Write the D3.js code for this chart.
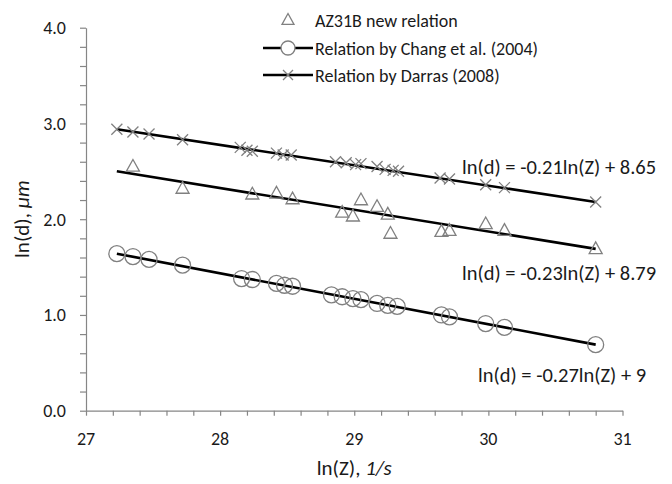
<!DOCTYPE html>
<html>
<head>
<meta charset="utf-8">
<script src="https://cdn.jsdelivr.net/npm/d3@7"></script>
<style>
  body { margin: 0; background: #fff; }
  svg { display: block; }
</style>
</head>
<body>
<div id="chart"></div>
<script>
// ── Data ─────────────────────────────────────────────────────
var xTicks = [27, 28, 29, 30, 31];
var yTicks = [0, 1, 2, 3, 4];

// AZ31B new relation (triangles)
var az31bX = [27.35, 27.72, 28.24, 28.42, 28.54, 28.91, 28.99, 29.05, 29.17, 29.25, 29.27, 29.65, 29.71, 29.98, 30.12, 30.80];
var az31bY = [2.55, 2.32, 2.26, 2.27, 2.21, 2.07, 2.03, 2.20, 2.13, 2.05, 1.85, 1.87, 1.88, 1.95, 1.88, 1.69];

// Relation by Chang et al. (2004) (circles)
var changX = [27.23, 27.35, 27.47, 27.72, 28.16, 28.24, 28.42, 28.48, 28.54, 28.83, 28.91, 28.99, 29.05, 29.17, 29.25, 29.32, 29.65, 29.71, 29.98, 30.12, 30.80];
var changY = [1.64, 1.61, 1.58, 1.52, 1.38, 1.37, 1.33, 1.31, 1.30, 1.21, 1.19, 1.17, 1.16, 1.12, 1.10, 1.09, 1.00, 0.98, 0.91, 0.87, 0.69];

// Relation by Darras (2008) (crosses)
var darrasX = [27.23, 27.35, 27.47, 27.72, 28.15, 28.20, 28.24, 28.42, 28.47, 28.53, 28.86, 28.94, 29.01, 29.05, 29.17, 29.23, 29.29, 29.33, 29.64, 29.71, 29.98, 30.12, 30.80];
var darrasY = [2.94, 2.91, 2.89, 2.83, 2.75, 2.72, 2.71, 2.69, 2.67, 2.67, 2.60, 2.59, 2.57, 2.58, 2.55, 2.52, 2.51, 2.50, 2.43, 2.42, 2.36, 2.33, 2.18];

// Trend line end points [x0, y0, x1, y1]
var trendAz31b = [27.23, 2.50, 30.80, 1.69];
var trendChang = [27.23, 1.64, 30.80, 0.69];
var trendDarras = [27.23, 2.94, 30.80, 2.18];

var legendLabels = ["AZ31B new relation", "Relation by Chang et al. (2004)", "Relation by Darras (2008)"];
var equationLabels = ["ln(d) = -0.21ln(Z) + 8.65", "ln(d) = -0.23ln(Z) + 8.79", "ln(d) = -0.27ln(Z) + 9"];

// ── Layout ───────────────────────────────────────────────────
var width = 672, height = 484;
var font = "Carlito, Lato, 'Liberation Sans', sans-serif";
var axisColor = "#868686";
var markColor = "#808080";
var textColor = "#1a1a1a";

var svg = d3.select("#chart")
  .append("svg")
  .attr("width", width)
  .attr("height", height)
  .attr("font-family", font);

var x = d3.scaleLinear().domain([27, 31]).range([86, 622.5]);
var y = d3.scaleLinear().domain([0, 4]).range([410.7, 27.7]);

function zip(xs, ys) {
  return xs.map(function (v, i) { return [v, ys[i]]; });
}

// ── Axes ─────────────────────────────────────────────────────
var xAxis = svg.append("g")
  .attr("transform", "translate(0," + y(0) + ")")
  .call(d3.axisBottom(x).ticks(20).tickSize(5).tickSizeOuter(0).tickFormat(""));
var yAxis = svg.append("g")
  .attr("transform", "translate(" + x(27) + ",0)")
  .call(d3.axisLeft(y).ticks(20).tickSize(6).tickSizeOuter(0).tickFormat(""));

[xAxis, yAxis].forEach(function (a) {
  a.select(".domain").attr("stroke", axisColor).attr("stroke-width", 1.2);
  a.selectAll(".tick line").attr("stroke", axisColor).attr("stroke-width", 1.2);
});

svg.selectAll(".xlab")
  .data(xTicks)
  .enter().append("text")
  .attr("x", function (d) { return x(d); })
  .attr("y", 445)
  .attr("text-anchor", "middle")
  .attr("font-size", 18)
  .attr("fill", textColor)
  .text(function (d) { return d; });

svg.selectAll(".ylab")
  .data(yTicks)
  .enter().append("text")
  .attr("x", 66)
  .attr("y", function (d) { return y(d) + 6.5; })
  .attr("text-anchor", "end")
  .attr("font-size", 18)
  .attr("fill", textColor)
  .text(function (d) { return d.toFixed(1); });

// axis titles
var xt = svg.append("text")
  .attr("x", (x(27) + x(31)) / 2)
  .attr("y", 475)
  .attr("text-anchor", "middle")
  .attr("font-size", 21)
  .attr("fill", textColor);
xt.append("tspan").text("ln(Z), ");
xt.append("tspan").attr("font-style", "italic").text("1/s");

var yt = svg.append("text")
  .attr("transform", "translate(29," + (y(2)) + ") rotate(-90)")
  .attr("text-anchor", "middle")
  .attr("font-size", 21)
  .attr("fill", textColor);
yt.append("tspan").text("ln(d), ");
yt.append("tspan").attr("font-style", "italic").text("μm");

// ── Marker shapes ────────────────────────────────────────────
function triPath(s) {
  var h = s * 0.9;
  return "M0," + (-h * 0.6) + "L" + (s / 2) + "," + (h * 0.4) + "L" + (-s / 2) + "," + (h * 0.4) + "Z";
}
function crossPath(s) {
  return "M" + (-s) + "," + (-s) + "L" + s + "," + s + "M" + (-s) + "," + s + "L" + s + "," + (-s);
}

// ── Trend lines ──────────────────────────────────────────────
[trendDarras, trendAz31b, trendChang].forEach(function (t) {
  svg.append("line")
    .attr("x1", x(t[0])).attr("y1", y(t[1]))
    .attr("x2", x(t[2])).attr("y2", y(t[3]))
    .attr("stroke", "#000")
    .attr("stroke-width", 2.6);
});

// ── Points ───────────────────────────────────────────────────
svg.append("g").selectAll("circle")
  .data(zip(changX, changY))
  .enter().append("circle")
  .attr("cx", function (d) { return x(d[0]); })
  .attr("cy", function (d) { return y(d[1]); })
  .attr("r", 8)
  .attr("fill", "none")
  .attr("stroke", markColor)
  .attr("stroke-width", 1.3);

svg.append("g").selectAll("path")
  .data(zip(az31bX, az31bY))
  .enter().append("path")
  .attr("transform", function (d) { return "translate(" + x(d[0]) + "," + y(d[1]) + ")"; })
  .attr("d", triPath(13))
  .attr("fill", "none")
  .attr("stroke", markColor)
  .attr("stroke-width", 1.3);

svg.append("g").selectAll("path")
  .data(zip(darrasX, darrasY))
  .enter().append("path")
  .attr("transform", function (d) { return "translate(" + x(d[0]) + "," + y(d[1]) + ")"; })
  .attr("d", crossPath(5.5))
  .attr("fill", "none")
  .attr("stroke", markColor)
  .attr("stroke-width", 1.3);

// ── Equation labels ──────────────────────────────────────────
var eqPos = [[462, 174], [462, 280], [478, 382]];
equationLabels.forEach(function (t, i) {
  svg.append("text")
    .attr("x", eqPos[i][0])
    .attr("y", eqPos[i][1])
    .attr("font-size", 20.5)
    .attr("fill", textColor)
    .text(t);
});

// ── Legend ───────────────────────────────────────────────────
var legend = svg.append("g").attr("transform", "translate(288,0)");
var rowY = [20, 48, 75];

legend.append("path")
  .attr("transform", "translate(0," + rowY[0] + ")")
  .attr("d", triPath(12))
  .attr("fill", "none").attr("stroke", markColor).attr("stroke-width", 1.3);

[1, 2].forEach(function (i) {
  legend.append("line")
    .attr("x1", -25).attr("x2", 25)
    .attr("y1", rowY[i]).attr("y2", rowY[i])
    .attr("stroke", "#000").attr("stroke-width", 2.6);
});
legend.append("circle")
  .attr("cy", rowY[1]).attr("r", 7)
  .attr("fill", "#fff").attr("stroke", markColor).attr("stroke-width", 1.3);
legend.append("path")
  .attr("transform", "translate(0," + rowY[2] + ")")
  .attr("d", crossPath(5))
  .attr("fill", "none").attr("stroke", markColor).attr("stroke-width", 1.3);

legendLabels.forEach(function (t, i) {
  legend.append("text")
    .attr("x", 27)
    .attr("y", rowY[i] + 6.5)
    .attr("font-size", 18)
    .attr("fill", textColor)
    .text(t);
});
</script>
</body>
</html>
